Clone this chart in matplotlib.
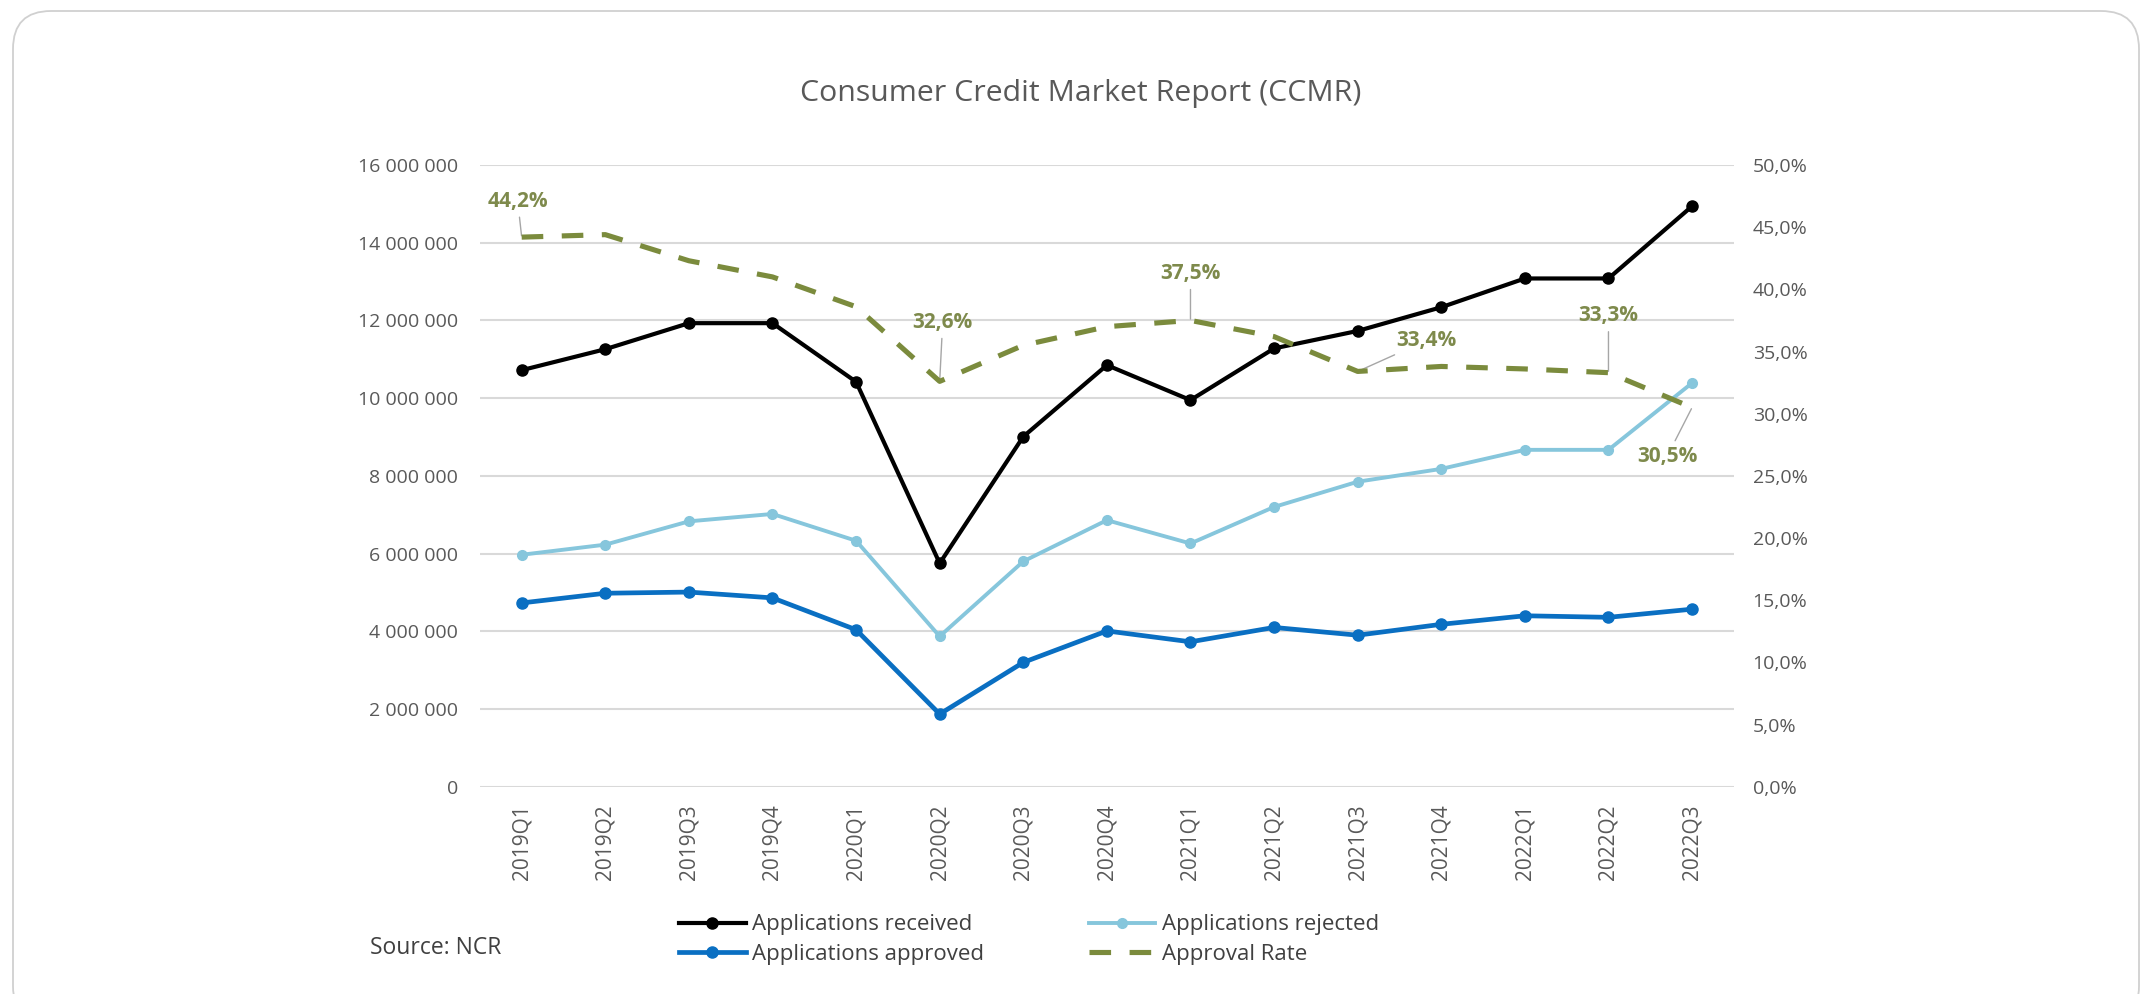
from matplotlib import pyplot as plt
from matplotlib.patches import FancyBboxPatch
import numpy as np

plt.rcParams['font.family'] = ['Open Sans', 'DejaVu Sans']

# data
quarters = ['2019Q1', '2019Q2', '2019Q3', '2019Q4', '2020Q1', '2020Q2', '2020Q3',
            '2020Q4', '2021Q1', '2021Q2', '2021Q3', '2021Q4', '2022Q1', '2022Q2', '2022Q3']
received = [10.72, 11.26, 11.93, 11.93, 10.42, 5.75, 9.01, 10.85, 9.95, 11.28,
            11.73, 12.34, 13.08, 13.08, 14.94]          # millions
approved = [4.73, 4.98, 5.01, 4.86, 4.04, 1.87, 3.20, 4.01, 3.73, 4.10,
            3.90, 4.18, 4.40, 4.36, 4.57]               # millions
rejected = [5.97, 6.23, 6.83, 7.02, 6.33, 3.87, 5.80, 6.86, 6.26, 7.20,
            7.85, 8.18, 8.67, 8.67, 10.39]              # millions
approval_rate = [44.2, 44.4, 42.3, 41.0, 38.6, 32.6, 35.5, 37.0, 37.5, 36.2,
                 33.4, 33.8, 33.6, 33.3, 30.5]          # percent

# which points carry a data label, and where the label sits (pixels from the point)
label_idx = [0, 5, 8, 10, 13, 14]
label_off = [(-4, 36), (3, 59), (0, 47), (69, 31), (0, 57), (-25, -49)]

grey = '#595959'
olive = '#7b8b3d'

fig = plt.figure(figsize=(21.52, 9.94), dpi=100)

# rounded card frame
card = FancyBboxPatch((0.13 + 0.38, -0.3 + 0.38), 21.26 - 0.76, 10.13 - 0.76,
                      boxstyle='round,pad=0.38', transform=fig.dpi_scale_trans,
                      facecolor='none', edgecolor='#d0d0d0', lw=1.3, zorder=-1)
fig.patches.append(card)

ax = fig.add_axes([0.2230, 0.2085, 0.5827, 0.6255])
ax.set_facecolor('none')
x = np.arange(len(quarters))

m = 1e6
ax.plot(x, np.array(received) * m, color='black', lw=3.0, marker='o', ms=8,
        label='Applications received', zorder=4)
ax.plot(x, np.array(approved) * m, color='#0a6fc2', lw=3.4, marker='o', ms=8,
        label='Applications approved', zorder=3)
ax.plot(x, np.array(rejected) * m, color='#86c6dc', lw=2.8, marker='o', ms=7,
        label='Applications rejected', zorder=2)

ax.set_xlim(-0.5, len(quarters) - 0.5)
ax.set_ylim(0, 16e6)
ax.set_yticks(np.arange(0, 16e6 + 1, 2e6))
ax.set_yticklabels([f'{int(v):,}'.replace(',', ' ') for v in np.arange(0, 16e6 + 1, 2e6)])
ax.set_xticks(x)
ax.set_xticklabels(quarters, rotation=90)
ax.yaxis.grid(True, color='#d9d9d9', lw=1.5)
ax.set_axisbelow(True)
ax.tick_params(axis='y', length=0, pad=15.5, labelsize=14, labelcolor=grey)
ax.tick_params(axis='x', length=0, pad=12.5, labelsize=15, labelcolor=grey)
for s in ax.spines.values():
    s.set_visible(False)

ax2 = ax.twinx()
ax2.plot(x, approval_rate, color=olive, lw=3.7, ls=(0, (4.2, 3.6)),
         label='Approval Rate', zorder=5)
ax2.set_ylim(0, 50)
ax2.set_yticks(np.arange(0, 51, 5))
ax2.set_yticklabels([f'{v:.1f}%'.replace('.', ',') for v in np.arange(0, 51, 5)])
ax2.tick_params(axis='y', length=0, pad=13.5, labelsize=14, labelcolor=grey)
for s in ax2.spines.values():
    s.set_visible(False)

for i, off in zip(label_idx, label_off):
    ax2.annotate(f'{approval_rate[i]:.1f}%'.replace('.', ','), xy=(i, approval_rate[i]),
                 xytext=off, textcoords='offset pixels', ha='center', va='center',
                 fontsize=15, fontweight='bold', color='#7e8a4c',
                 arrowprops=dict(arrowstyle='-', color='#a6a6a6', lw=1,
                                 shrinkA=2, shrinkB=1))

fig.text(0.5023, 0.9064, 'Consumer Credit Market Report (CCMR)', ha='center', va='center',
         fontsize=21.8, color=grey)
fig.text(0.172, 0.0463, 'Source: NCR', ha='left', va='center', fontsize=16.5, color='#404040')

h1, l1 = ax.get_legend_handles_labels()
h2, l2 = ax2.get_legend_handles_labels()
handles = [h1[0], h1[1], h1[2], h2[0]]
labels = [l1[0], l1[1], l1[2], l2[0]]
fig.legend(handles, labels, ncol=2, loc='upper left', bbox_to_anchor=(0.3155, 0.0800),
           frameon=False, fontsize=16, labelcolor='#404040', handlelength=3.0,
           handletextpad=0.3, columnspacing=4.7, labelspacing=0.38, borderpad=0,
           borderaxespad=0)

fig.savefig('out.png', dpi=100)
